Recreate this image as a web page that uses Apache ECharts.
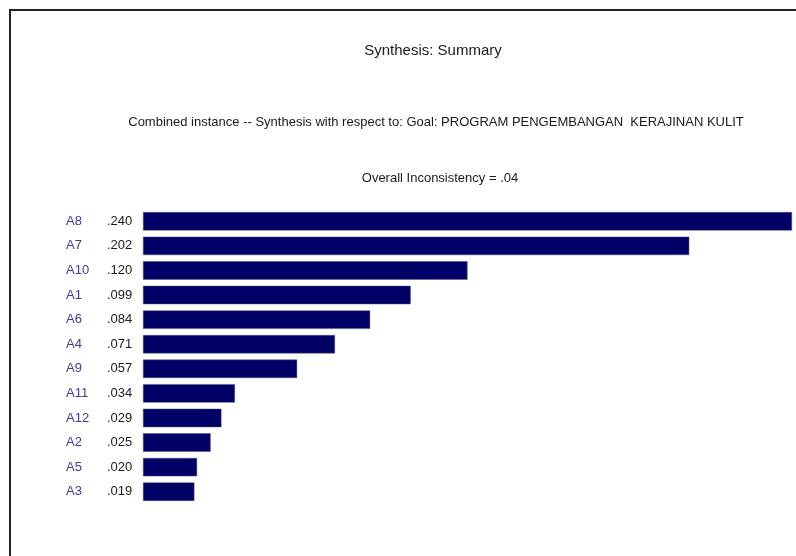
<!DOCTYPE html>
<html>
<head>
<meta charset="utf-8">
<script src="https://cdn.jsdelivr.net/npm/echarts@6/dist/echarts.min.js"></script>
<style>
html,body{margin:0;padding:0;background:#fff;}
#chart{width:796px;height:556px;}
</style>
</head>
<body>
<div id="chart"></div>
<script>
const titleText = 'Synthesis: Summary';
const subtitleText = 'Combined instance -- Synthesis with respect to: Goal: PROGRAM PENGEMBANGAN  KERAJINAN KULIT';
const inconsistencyText = 'Overall Inconsistency = .04';
const categories = ['A8','A7','A10','A1','A6','A4','A9','A11','A12','A2','A5','A3'];
const values = [0.240,0.202,0.120,0.099,0.084,0.071,0.057,0.034,0.029,0.025,0.020,0.019];

const FONT = '"Liberation Sans", Arial, sans-serif';
const fmt = v => v.toFixed(3).replace(/^0/, '');
const valueByCat = {};
categories.forEach((c,i)=>{ valueByCat[c] = values[i]; });

const chart = echarts.init(document.getElementById('chart'));
chart.setOption({
  animation: false,
  backgroundColor: '#fff',
  textStyle: { fontFamily: FONT },
  title: [
    { text: titleText, left: 428, top: 38, textAlign: 'center',
      textStyle: { fontFamily: FONT, fontSize: 15, fontWeight: 'normal', color: '#1a1a1a' } },
    { text: subtitleText, left: 431, top: 111, textAlign: 'center',
      textStyle: { fontFamily: FONT, fontSize: 13, fontWeight: 'normal', color: '#1a1a1a' } },
    { text: inconsistencyText, left: 435, top: 167, textAlign: 'center',
      textStyle: { fontFamily: FONT, fontSize: 13, fontWeight: 'normal', color: '#1a1a1a' } }
  ],
  graphic: [
    { type: 'line', shape: { x1: 9, y1: 10, x2: 796, y2: 10 }, style: { stroke: '#222', lineWidth: 2 } },
    { type: 'line', shape: { x1: 10, y1: 9, x2: 10, y2: 556 }, style: { stroke: '#222', lineWidth: 2 } }
  ],
  grid: { left: 143, right: 4, top: 209, height: 295, containLabel: false },
  xAxis: { type: 'value', min: 0, max: 0.24, show: false },
  yAxis: {
    type: 'category', data: categories, inverse: true,
    axisLine: { show: false }, axisTick: { show: false }, splitLine: { show: false },
    axisLabel: {
      align: 'left', margin: 77,
      formatter: c => '{n|' + c + '}{v|' + fmt(valueByCat[c]) + '}',
      rich: {
        n: { width: 41, fontFamily: FONT, fontSize: 13, color: '#3a3aa8' },
        v: { fontFamily: FONT, fontSize: 13, color: '#1a1a1a' }
      }
    }
  },
  series: [{
    type: 'bar', data: values, barCategoryGap: '25%',
    itemStyle: { color: '#000066', borderColor: '#555577', borderWidth: 0.5 }
  }]
});
</script>
</body>
</html>
